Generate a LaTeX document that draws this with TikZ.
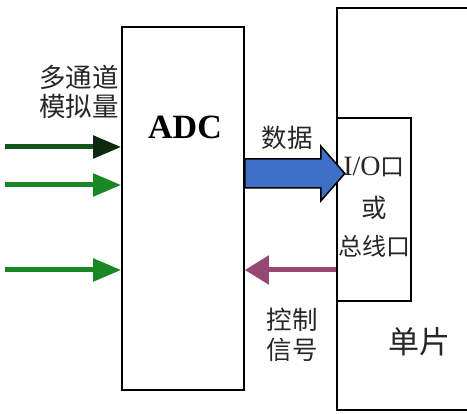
\documentclass[tikz,border=0pt]{standalone}
\usepackage{fontspec}
\setmainfont{Liberation Serif}
\newfontfamily\cjk{Noto Sans CJK SC}
\usetikzlibrary{arrows.meta}
\definecolor{ingreen}{RGB}{25,135,35}
\definecolor{darkgreen}{RGB}{20,85,25}
\definecolor{headgreen}{RGB}{15,40,15}
\definecolor{datablue}{RGB}{62,112,200}
\definecolor{ctrlpurple}{RGB}{150,72,115}

\begin{document}
\begin{tikzpicture}[x=1pt, y=-1pt]
        \tikzstyle{box}=[draw, line width=1.6pt, fill=none, shape=rectangle, inner sep=0pt]
        \tikzstyle{cn}=[font=\cjk\fontsize{25.5}{30}\selectfont, align=center, inner sep=0pt, text=black!85]
        \tikzstyle{in arrow}=[-{Triangle[length=28pt, width=22pt]}, line width=5pt, draw=ingreen, fill=ingreen]
        \tikzstyle{ctrl arrow}=[-{Triangle[length=24pt, width=28pt]}, line width=5pt, draw=ctrlpurple, fill=ctrlpurple]
        \tikzstyle{data arrow}=[draw=black, line width=1.5pt, fill=datablue, line join=miter]
        \useasboundingbox (0,0) rectangle (467,414);

        % ADC and the I/O port
        \node [style=box, minimum width=122pt, minimum height=363pt] (1) at (183,208.5) {};
        \node [font=\bfseries\fontsize{34}{40}\selectfont, inner sep=0pt] (2) at (185,127) {ADC};
        \node [style=box, minimum width=74pt, minimum height=183pt] (4) at (374,209.5) {};

        % microcontroller, cut off at the right edge
        \draw [line width=1.6pt] (467,8) -- (337,8) -- (337,410) -- (467,410);

        % free ends
        \coordinate (5) at (5,147);
        \coordinate (6) at (5,185);
        \coordinate (7) at (5,270);
        \coordinate (8) at (1.east |- 0,173.5);
        \coordinate (10) at (4.west |- 0,270);

        \draw [style=in arrow, draw=darkgreen, -{Triangle[length=28pt, width=22pt, color=headgreen]}] (5) to (1.west |- 5);
        \draw [style=in arrow] (6) to (1.west |- 6);
        \draw [style=in arrow] (7) to (1.west |- 7);
        \draw [style=ctrl arrow] (10) to (1.east |- 10);
        \draw [style=data arrow] (8) ++(0,-14.5) -- ++(76,0) -- ++(0,-13) -- ++(24,27.5)
            -- ++(-24,27.5) -- ++(0,-13) -- ++(-76,0) -- cycle;

        \node [style=cn, font=\cjk\fontsize{26.5}{29}\selectfont] (11) at (79,92) {多通道\\模拟量};
        \node [style=cn] (12) at (287,138) {数据};
        \node [style=cn] (13) at (374,167) {\rmfamily\fontsize{28}{30}\selectfont I/O\cjk\fontsize{24}{30}\selectfont 口};
        \node [style=cn] (14) at (374,208) {或};
        \node [style=cn, font=\cjk\fontsize{24}{30}\selectfont] (15) at (374,246) {总线口};
        \node [style=cn] (16) at (292,335) {控制\\信号};
        \node [style=cn, font=\cjk\fontsize{31}{36}\selectfont] (17) at (419,342) {单片};
\end{tikzpicture}
\end{document}
